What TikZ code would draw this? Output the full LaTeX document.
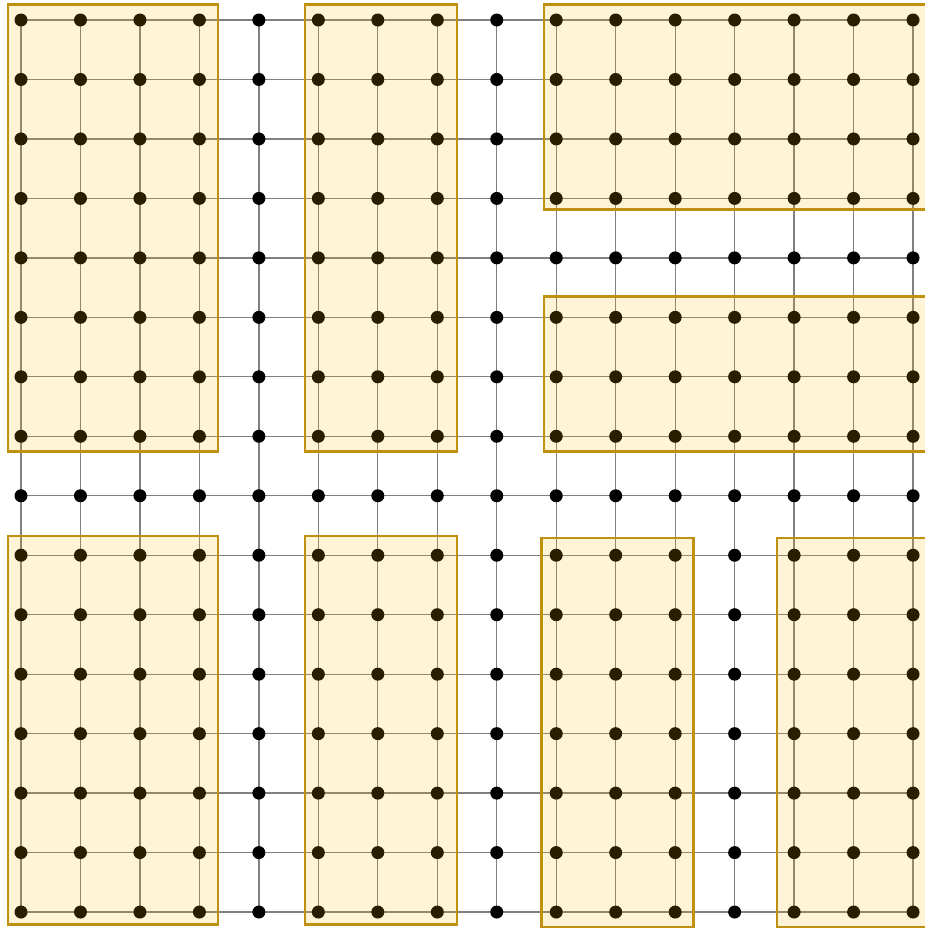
\documentclass[tikz,border=0pt]{standalone}
\usetikzlibrary{backgrounds}
\definecolor{gridgray}{RGB}{128,128,128}
\definecolor{boxedge}{RGB}{192,144,16}
\definecolor{boxfill}{RGB}{255,191,0}
\begin{document}
\begin{tikzpicture}[x=1pt,y=-1pt,
  dotnode/.style={circle,fill=black,inner sep=0pt,minimum size=13pt},
  gridline/.style={gridgray,line width=1.3pt},
  region/.style={draw=boxedge,line width=2.5pt,fill=boxfill,fill opacity=0.16}]
\useasboundingbox (0,0) rectangle (925,929);
% dots
\foreach \i in {0,...,15}{
  \foreach \j in {0,...,15}{
    \node[dotnode] (n-\i-\j) at ({21+59.47*\i},{20+59.47*\j}) {};
  }
}
% grid lines
\begin{scope}[on background layer]
\foreach \i in {0,...,15}{
  \foreach \j [count=\k from 1] in {0,...,14}{
    \draw[gridline] (n-\i-\j.center) -- (n-\i-\k.center);
    \draw[gridline] (n-\j-\i.center) -- (n-\k-\i.center);
  }
}
\end{scope}
% regions
\path[region] (8,4.5) rectangle (218,451.5);
\path[region] (305,4.5) rectangle (457,451.5);
\path[region] (544,4.5) rectangle (935,209.5);
\path[region] (544,296.5) rectangle (935,451.5);
\path[region] (8,536) rectangle (218,924.5);
\path[region] (305,536) rectangle (457,924.5);
\path[region] (541.5,538) rectangle (693.5,927);
\path[region] (777,538) rectangle (935,927);
\end{tikzpicture}
\end{document}
